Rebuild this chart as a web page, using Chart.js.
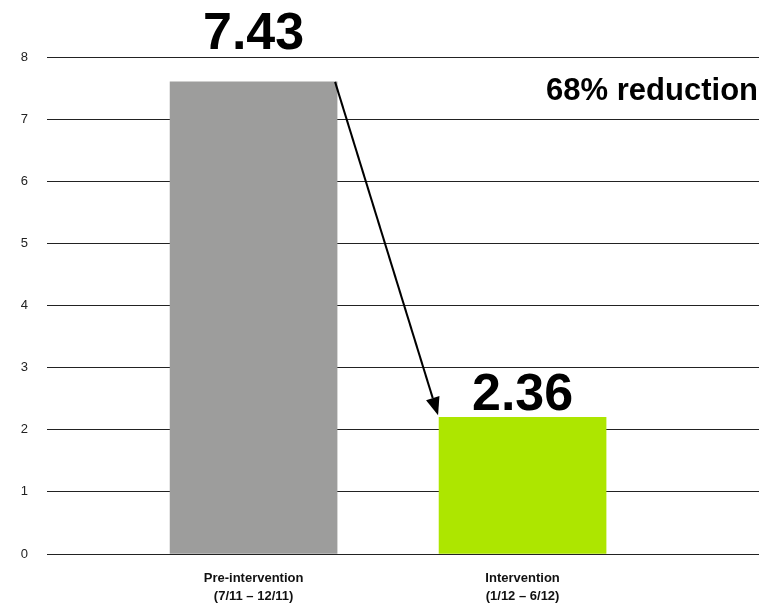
<!DOCTYPE html>
<html lang="en">
<head>
  <meta charset="UTF-8">
  <title>Pre-intervention vs Intervention</title>
  <script src="https://cdn.jsdelivr.net/npm/chart.js@4.4.1/dist/chart.umd.min.js"></script>
  <style>
    html, body { margin: 0; padding: 0; background: #fff; }
    .chart-container { width: 763px; height: 606px; position: relative; }
  </style>
</head>
<body>
  <div class="chart-container">
    <canvas id="barChart"></canvas>
  </div>
  <script>
    // data
    var categories = [
      ['Pre-intervention', '(7/11 – 12/11)'],
      ['Intervention', '(1/12 – 6/12)']
    ];
    var barValues = [7.6, 2.2];
    var valueLabels = ['7.43', '2.36'];
    var barColors = ['#9d9d9c', '#ade600'];
    var yTicks = [0, 1, 2, 3, 4, 5, 6, 7, 8];
    var noteText = '68% reduction';

    var points = [];
    for (var i = 0; i < barValues.length; i++) {
      points.push({ x: i, y: barValues[i] });
    }

    var fontMain = "'Liberation Sans', Arial, sans-serif";

    // value labels, arrow between bars and the reduction note
    var annotate = {
      id: 'annotate',
      afterDatasetsDraw: function(chart, args, opts) {
        var ctx = chart.ctx;
        var bars = chart.getDatasetMeta(0).data;
        ctx.save();
        ctx.fillStyle = '#000';
        ctx.font = 'bold 52px ' + fontMain;
        ctx.textAlign = 'center';
        ctx.textBaseline = 'alphabetic';
        for (var i = 0; i < bars.length; i++) {
          ctx.fillText(valueLabels[i], bars[i].x, bars[i].y - opts.labelGap[i]);
        }

        // arrow from top-right corner of first bar to top-left of second
        var x1 = bars[0].x + bars[0].width / 2 - 2, y1 = bars[0].y;
        var x2 = bars[1].x - bars[1].width / 2 - 1, y2 = bars[1].y - 2;
        var ang = Math.atan2(y2 - y1, x2 - x1);
        var headLen = 18, headW = 7;
        ctx.strokeStyle = '#000';
        ctx.lineWidth = 2;
        ctx.beginPath();
        ctx.moveTo(x1, y1);
        ctx.lineTo(x2 - headLen * Math.cos(ang), y2 - headLen * Math.sin(ang));
        ctx.stroke();
        ctx.beginPath();
        ctx.moveTo(x2, y2);
        ctx.lineTo(x2 - headLen * Math.cos(ang) + headW * Math.sin(ang), y2 - headLen * Math.sin(ang) - headW * Math.cos(ang));
        ctx.lineTo(x2 - headLen * Math.cos(ang) - headW * Math.sin(ang), y2 - headLen * Math.sin(ang) + headW * Math.cos(ang));
        ctx.closePath();
        ctx.fill();

        // note on the right
        ctx.font = 'bold 31px ' + fontMain;
        ctx.textAlign = 'right';
        ctx.fillText(noteText, chart.chartArea.right - 1, chart.chartArea.top + 43);
        ctx.restore();
      }
    };

    var ctxBar = document.getElementById('barChart').getContext('2d');
    var chart = new Chart(ctxBar, {
      type: 'bar',
      data: {
        datasets: [{
          data: points,
          backgroundColor: barColors,
          barThickness: 167,
          borderWidth: 0
        }]
      },
      options: {
        responsive: true,
        maintainAspectRatio: false,
        animation: false,
        layout: { padding: { top: 57, right: 4, left: 0, bottom: 0 } },
        plugins: {
          legend: { display: false },
          tooltip: { enabled: false },
          annotate: { labelGap: [33, 7] }
        },
        scales: {
          x: {
            type: 'linear',
            min: -0.768,
            max: 1.879,
            offset: false,
            bounds: 'data',
            grid: { display: false, drawTicks: false, offset: false },
            border: { display: false },
            afterBuildTicks: function(scale) {
              scale.ticks = categories.map(function(c, i) { return { value: i }; });
            },
            afterFit: function(scale) { scale.height = 52; },
            ticks: {
              padding: 15,
              maxRotation: 0,
              autoSkip: false,
              color: '#111',
              font: { family: "'Liberation Sans Narrow', 'Arial Narrow', " + fontMain, size: 13, weight: 'bold', lineHeight: 1.4 },
              callback: function(v) { return categories[v]; }
            }
          },
          y: {
            min: 0,
            max: 8,
            grid: { color: '#222', lineWidth: 1, drawTicks: false },
            border: { display: false },
            afterBuildTicks: function(scale) {
              scale.ticks = yTicks.map(function(v) { return { value: v }; });
            },
            afterFit: function(scale) { scale.width = 47; },
            ticks: {
              padding: 19,
              color: '#222',
              font: { family: fontMain, size: 13 }
            }
          }
        }
      },
      plugins: [annotate]
    });
  </script>
</body>
</html>
